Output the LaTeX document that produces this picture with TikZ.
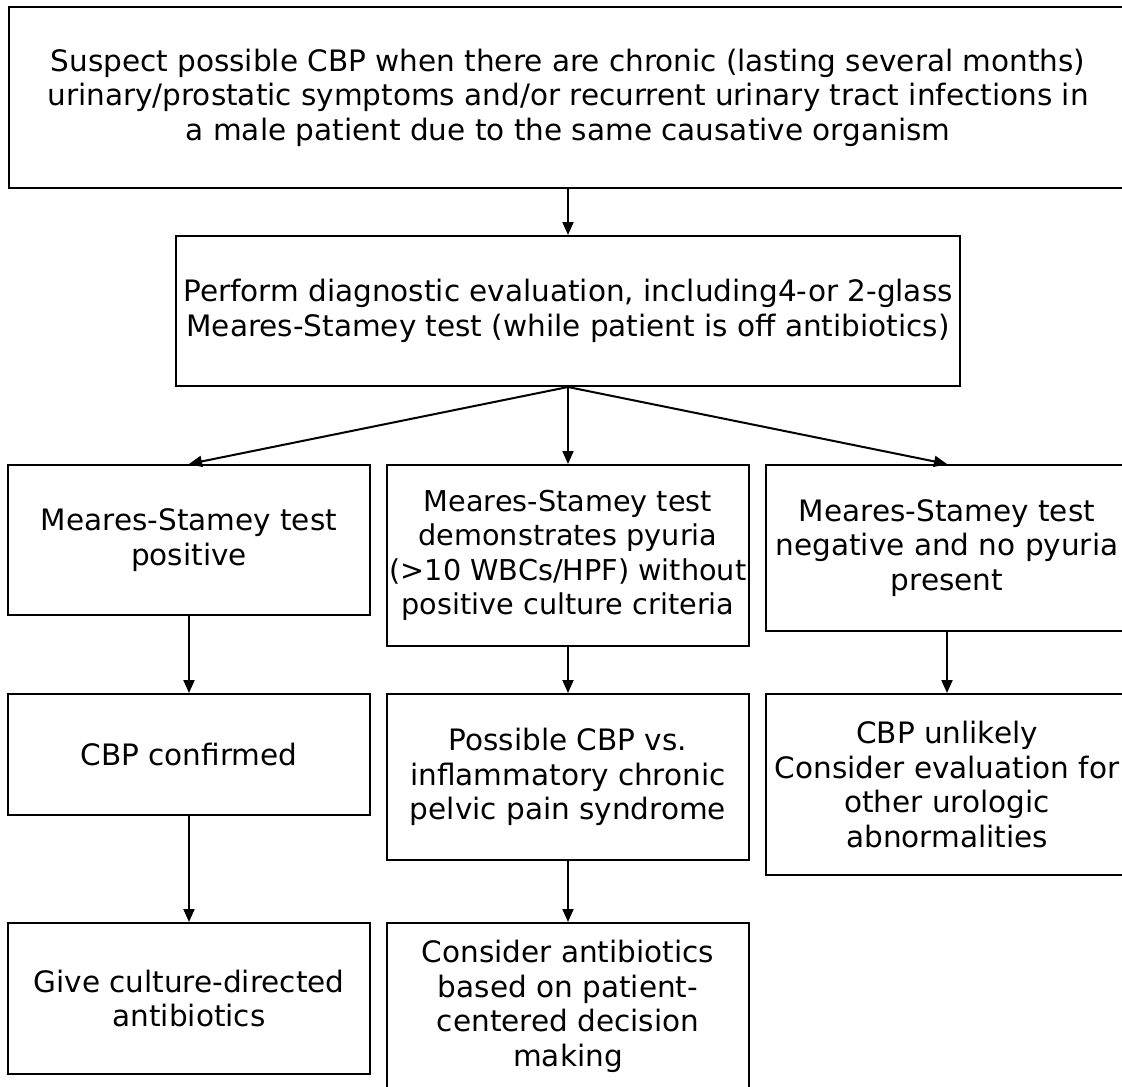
\documentclass[tikz,border=0pt]{standalone}
\usepackage{fontspec}
\setmainfont{DejaVu Sans}
\usetikzlibrary{arrows.meta}
\begin{document}
\begin{tikzpicture}[x=1pt,y=-1pt,
  box/.style={draw=black, line width=2pt, fill=white, inner sep=0pt, align=center,
    font=\fontsize{29.5pt}{34.5pt}\selectfont},
  arr/.style={line width=2pt, -{Triangle[length=13pt,width=11pt]}}]
\useasboundingbox[fill=white] (0,0) rectangle (1122,1087);
\node[box, minimum width=1118pt, minimum height=181pt] (top) at (568,97.5)
  {Suspect possible CBP when there are chronic (lasting several months)\\
   urinary/prostatic symptoms and/or recurrent urinary tract infections in\\
   a male patient due to the same causative organism};
\node[box, minimum width=784pt, minimum height=150pt] (eval) at (568,311)
  {Perform diagnostic evaluation, including4-or 2-glass\\
   Meares-Stamey test (while patient is off antibiotics)};
\node[box, minimum width=362pt, minimum height=150pt] (pos) at (189,540)
  {Meares-Stamey test\\ positive};
\node[box, minimum width=362pt, minimum height=181pt, font=\fontsize{28.7pt}{34.5pt}\selectfont] (pyu) at (568,555.5)
  {Meares-Stamey test\\ demonstrates pyuria\\ (>10 WBCs/HPF) without\\ positive culture criteria};
\node[box, minimum width=362pt, minimum height=166pt] (neg) at (947,548)
  {Meares-Stamey test\\ negative and no pyuria\\ present};
\node[box, minimum width=362pt, minimum height=121pt] (conf) at (189,754.5)
  {CBP confirmed};
\node[box, minimum width=362pt, minimum height=166pt] (poss) at (568,777)
  {Possible CBP vs.\\ inflammatory chronic\\ pelvic pain syndrome};
\node[box, minimum width=362pt, minimum height=181pt] (unl) at (947,784.5)
  {CBP unlikely\\ Consider evaluation for\\ other urologic\\ abnormalities};
\node[box, minimum width=362pt, minimum height=151pt] (give) at (189,998.5)
  {Give culture-directed\\ antibiotics};
\node[box, minimum width=362pt, minimum height=167pt] (cons) at (568,1006.5)
  {Consider antibiotics\\ based on patient-\\ centered decision\\ making};
\draw[arr] (top.south) -- (eval.north);
\draw[arr] (eval.south) -- (pos.north);
\draw[arr] (eval.south) -- (pyu.north);
\draw[arr] (eval.south) -- (neg.north);
\draw[arr] (pos.south) -- (conf.north);
\draw[arr] (pyu.south) -- (poss.north);
\draw[arr] (neg.south) -- (unl.north);
\draw[arr] (conf.south) -- (give.north);
\draw[arr] (poss.south) -- (cons.north);
\end{tikzpicture}
\end{document}
